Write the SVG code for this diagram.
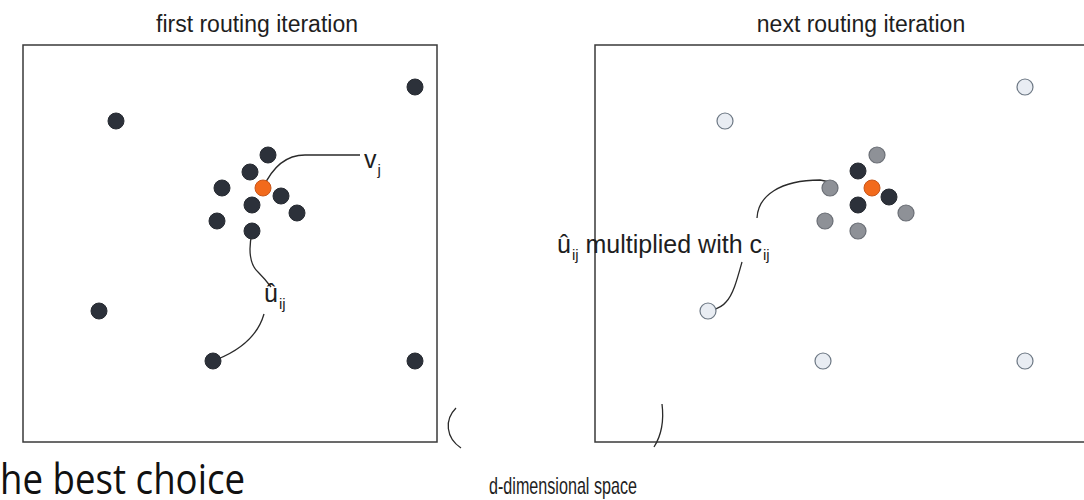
<svg xmlns="http://www.w3.org/2000/svg" width="1084" height="500" viewBox="0 0 1084 500">
  <style>
    .title { font-family: "Liberation Sans", Arial, sans-serif; font-size: 23px; fill: #1e1e1e; }
    .lbl { font-family: "Liberation Sans", Arial, sans-serif; font-size: 25px; fill: #1e1e1e; }
    .sub { font-size: 15px; }
    .caption { font-family: "Liberation Sans", Arial, sans-serif; font-size: 24px; fill: #1e1e1e; }
    .frame { fill: #ffffff; stroke: #3a3a3a; stroke-width: 1.5; }
    .dark { fill: #2c313a; stroke: #262a31; stroke-width: 1; }
    .core { fill: #f26a1c; stroke: #c8561a; stroke-width: 1; }
    .gray { fill: #8e9197; stroke: #6b6f76; stroke-width: 1.2; }
    .light { fill: #e9edf3; stroke: #6d7884; stroke-width: 1.2; }
    .wire { fill: none; stroke: #2a2a2a; stroke-width: 1.3; }
    .big { font-family: "Open Sans", "Liberation Sans", sans-serif; font-size: 42px; fill: #111111; }
  </style>

  <rect width="1084" height="500" fill="#ffffff"/>

  <!-- panel frames and titles -->
  <g id="panel-first">
    <text class="title" x="257" y="32" text-anchor="middle">first routing iteration</text>
    <rect class="frame" x="23" y="45" width="414" height="397"/>
  </g>
  <g id="panel-next">
    <text class="title" x="861" y="32" text-anchor="middle">next routing iteration</text>
    <rect class="frame" x="595" y="45" width="495" height="397"/>
  </g>

  <!-- connectors -->
  <g id="connectors">
    <path class="wire" d="M263,188 C272,168 285,155 305,155 L360,155"/>
    <path class="wire" d="M252,233 C248,250 250,265 258,272 C264,278 268,283 271,287"/>
    <path class="wire" d="M264,314 C258,335 240,350 218,359"/>
    <path class="wire" d="M757,218 C758,196 780,180 820,180 L830,182"/>
    <path class="wire" d="M742,262 C737,280 733,295 726,302 C722,307 716,309 712,310"/>
    <path class="wire" d="M456,408 C444,420 446,438 461,448"/>
    <path class="wire" d="M662,404 C664,420 661,436 654,447"/>
  </g>

  <!-- first iteration: predictions and output vector -->
  <g id="nodes-first">
    <circle class="dark" cx="116" cy="121" r="8"/>
    <circle class="dark" cx="415" cy="87" r="8"/>
    <circle class="dark" cx="268" cy="155" r="8"/>
    <circle class="dark" cx="250" cy="172" r="8"/>
    <circle class="dark" cx="222" cy="188" r="8"/>
    <circle class="dark" cx="281" cy="196" r="8"/>
    <circle class="dark" cx="297" cy="213" r="8"/>
    <circle class="dark" cx="252" cy="205" r="8"/>
    <circle class="dark" cx="217" cy="221" r="8"/>
    <circle class="dark" cx="252" cy="231" r="8"/>
    <circle class="dark" cx="99" cy="311" r="8"/>
    <circle class="dark" cx="213" cy="361" r="8"/>
    <circle class="dark" cx="415" cy="361" r="8"/>
    <circle class="core" cx="263" cy="188" r="8"/>
  </g>

  <!-- next iteration: weighted predictions -->
  <g id="nodes-next">
    <circle class="light" cx="1025" cy="87" r="8"/>
    <circle class="light" cx="725" cy="121" r="8"/>
    <circle class="light" cx="708" cy="311" r="8"/>
    <circle class="light" cx="823" cy="361" r="8"/>
    <circle class="light" cx="1025" cy="361" r="8"/>
    <circle class="gray" cx="877" cy="155" r="8"/>
    <circle class="gray" cx="830" cy="188" r="8"/>
    <circle class="gray" cx="906" cy="213" r="8"/>
    <circle class="gray" cx="825" cy="221" r="8"/>
    <circle class="gray" cx="858" cy="231" r="8"/>
    <circle class="dark" cx="858" cy="171" r="8"/>
    <circle class="dark" cx="889" cy="197" r="8"/>
    <circle class="dark" cx="858" cy="205" r="8"/>
    <circle class="core" cx="872" cy="188" r="8"/>
  </g>

  <!-- labels -->
  <g id="label-vj">
    <text class="lbl" x="364" y="168">v<tspan class="sub" dx="1" dy="7">j</tspan></text>
  </g>
  <g id="label-uij">
    <text class="lbl" x="264" y="302">û<tspan class="sub" dx="1" dy="7">ij</tspan></text>
  </g>
  <g id="label-weighted">
    <text class="lbl" x="557" y="253">û<tspan class="sub" dx="1" dy="7">ij</tspan><tspan dy="-7"> multiplied with c</tspan><tspan class="sub" dx="1" dy="7">ij</tspan></text>
  </g>
  <g id="label-space">
    <text class="caption" x="489" y="494" textLength="148" lengthAdjust="spacingAndGlyphs">d-dimensional space</text>
  </g>
  <text class="big" x="0" y="494" textLength="245" lengthAdjust="spacingAndGlyphs">he best choice</text>
</svg>
